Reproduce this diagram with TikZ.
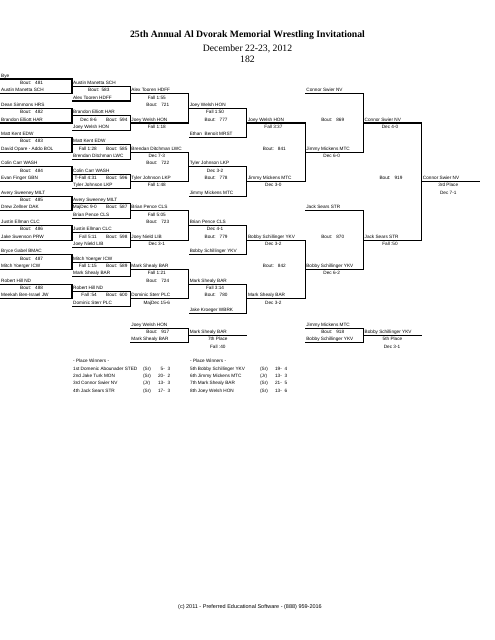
\documentclass[tikz,border=0pt]{standalone}
\usepackage{fontspec}
\setmainfont{Liberation Sans}
\newfontfamily\titlefont{Liberation Serif}
\usetikzlibrary{positioning}
\newcommand{\boutno}[1]{Bout:\hspace{5pt}#1}
\newcommand{\boutnar}[1]{Bout:\hspace{3pt}#1}

\begin{document}
\begin{tikzpicture}[x=1.23636pt,y=-9.0625pt,
		every node/.style={inner sep=0pt,font=\fontsize{5.8}{7}\selectfont},
		brk/.style={line width=1.3pt},
		nm/.style={anchor=base west},
		res/.style={anchor=base},
		rres/.style={anchor=base east}]
	\useasboundingbox (0,-10.778) rectangle (495,76.535);

	% heading
	\node[anchor=base,font=\titlefont\bfseries\fontsize{12}{14}\selectfont] (title) at (247.5,-5.68) {25th Annual Al Dvorak Memorial Wrestling Invitational};
	\node[anchor=base,font=\titlefont\fontsize{12}{14}\selectfont] (date) at (247.5,-3.77) {December 22-23, 2012};
	\node[anchor=base,font=\titlefont\fontsize{12}{14}\selectfont] (weight) at (247.5,-2.26) {182};

	% first round
	\draw[brk] (0,0) -- (72,0) -- (72,2) -- (0,2);
	\draw[brk] (0,4) -- (72,4) -- (72,6) -- (0,6);
	\draw[brk] (0,8) -- (72,8) -- (72,10) -- (0,10);
	\draw[brk] (0,12) -- (72,12) -- (72,14) -- (0,14);
	\draw[brk] (0,16) -- (72,16) -- (72,18) -- (0,18);
	\draw[brk] (0,20) -- (72,20) -- (72,22) -- (0,22);
	\draw[brk] (0,24) -- (72,24) -- (72,26) -- (0,26);
	\draw[brk] (0,28) -- (72,28) -- (72,30) -- (0,30);

	\node[nm] (b481t) at (1,-.27) {Bye};
	\node[nm] (b481n) at (20,.73) {\boutno{481}};
	\node[nm] (b481b) at (1,1.73) {Austin Manetta SCH};
	\node[nm] (b482t) at (1,3.73) {Dean Simmons HRS};
	\node[nm] (b482n) at (20,4.73) {\boutno{482}};
	\node[nm] (b482b) at (1,5.73) {Brandon Elliott HAR};
	\node[nm] (b483t) at (1,7.73) {Matt Kent EDW};
	\node[nm] (b483n) at (20,8.73) {\boutno{483}};
	\node[nm] (b483b) at (1,9.73) {David Opare - Addo BOL};
	\node[nm] (b484t) at (1,11.73) {Colin Carr WASH};
	\node[nm] (b484n) at (20,12.73) {\boutno{484}};
	\node[nm] (b484b) at (1,13.73) {Evan Finger GBN};
	\node[nm] (b485t) at (1,15.73) {Avery Sweeney MILT};
	\node[nm] (b485n) at (20,16.73) {\boutno{485}};
	\node[nm] (b485b) at (1,17.73) {Drew Zellner DAK};
	\node[nm] (b486t) at (1,19.73) {Justin Ellman CLC};
	\node[nm] (b486n) at (20,20.73) {\boutno{486}};
	\node[nm] (b486b) at (1,21.73) {Jake Swenson PRW};
	\node[nm] (b487t) at (1,23.73) {Bryce Gabel BMAC};
	\node[nm] (b487n) at (20,24.73) {\boutno{487}};
	\node[nm] (b487b) at (1,25.73) {Mitch Yoerger ICW};
	\node[nm] (b488t) at (1,27.73) {Robert Hill ND};
	\node[nm] (b488n) at (20,28.73) {\boutno{488}};
	\node[nm] (b488b) at (1,29.73) {Meekah Ben-Israel JW};

	% second round
	\draw[brk] (72,1) -- (130.3,1) -- (130.3,3) -- (72,3);
	\draw[brk] (72,5) -- (130.3,5) -- (130.3,7) -- (72,7);
	\draw[brk] (72,9) -- (130.3,9) -- (130.3,11) -- (72,11);
	\draw[brk] (72,13) -- (130.3,13) -- (130.3,15) -- (72,15);
	\draw[brk] (72,17) -- (130.3,17) -- (130.3,19) -- (72,19);
	\draw[brk] (72,21) -- (130.3,21) -- (130.3,23) -- (72,23);
	\draw[brk] (72,25) -- (130.3,25) -- (130.3,27) -- (72,27);
	\draw[brk] (72,29) -- (130.3,29) -- (130.3,31) -- (72,31);

	\node[nm] (b583t) at (73,.73) {Austin Manetta SCH};
	\node[nm] (b583n) at (88,1.73) {\boutnar{583}};
	\node[nm] (b583b) at (73,2.73) {Alex Tooren HDFF};
	\node[nm] (b594t) at (73,4.73) {Brandon Elliott HAR};
	\node[rres] (b594r) at (97,5.73) {Dec 8-6};
	\node[nm] (b594n) at (106,5.73) {\boutnar{594}};
	\node[nm] (b594b) at (73,6.73) {Joey Welsh HON};
	\node[nm] (b585t) at (73,8.73) {Matt Kent EDW};
	\node[rres] (b585r) at (97,9.73) {Fall 1:28};
	\node[nm] (b585n) at (106,9.73) {\boutnar{585}};
	\node[nm] (b585b) at (73,10.73) {Brendan Ditchman LWC};
	\node[nm] (b596t) at (73,12.73) {Colin Carr WASH};
	\node[rres] (b596r) at (97,13.73) {T-Fall 4:31};
	\node[nm] (b596n) at (106,13.73) {\boutnar{596}};
	\node[nm] (b596b) at (73,14.73) {Tyler Johnson LKP};
	\node[nm] (b587t) at (73,16.73) {Avery Sweeney MILT};
	\node[rres] (b587r) at (97,17.73) {MajDec 9-0};
	\node[nm] (b587n) at (106,17.73) {\boutnar{587}};
	\node[nm] (b587b) at (73,18.73) {Brian Pence CLS};
	\node[nm] (b598t) at (73,20.73) {Justin Ellman CLC};
	\node[rres] (b598r) at (97,21.73) {Fall 5:11};
	\node[nm] (b598n) at (106,21.73) {\boutnar{598}};
	\node[nm] (b598b) at (73,22.73) {Joey Nield LIB};
	\node[nm] (b589t) at (73,24.73) {Mitch Yoerger ICW};
	\node[rres] (b589r) at (97,25.73) {Fall 1:15};
	\node[nm] (b589n) at (106,25.73) {\boutnar{589}};
	\node[nm] (b589b) at (73,26.73) {Mark Shealy BAR};
	\node[nm] (b600t) at (73,28.73) {Robert Hill ND};
	\node[rres] (b600r) at (97,29.73) {Fall :54};
	\node[nm] (b600n) at (106,29.73) {\boutnar{600}};
	\node[nm] (b600b) at (73,30.73) {Dominic Sterr PLC};

	% third round
	\draw[brk] (130.3,2) -- (188.6,2) -- (188.6,6) -- (130.3,6);
	\draw[brk] (130.3,10) -- (188.6,10) -- (188.6,14) -- (130.3,14);
	\draw[brk] (130.3,18) -- (188.6,18) -- (188.6,22) -- (130.3,22);
	\draw[brk] (130.3,26) -- (188.6,26) -- (188.6,30) -- (130.3,30);

	\node[nm] (b721t) at (131.3,1.73) {Alex Tooren HDFF};
	\node[res] (b721tr) at (156.8,2.73) {Fall 1:55};
	\node[res] (b721n) at (157.8,3.73) {\boutno{721}};
	\node[nm] (b721b) at (131.3,5.73) {Joey Welsh HON};
	\node[res] (b721br) at (156.8,6.73) {Fall 1:18};
	\node[nm] (b722t) at (131.3,9.73) {Brendan Ditchman LWC};
	\node[res] (b722tr) at (156.8,10.73) {Dec 7-3};
	\node[res] (b722n) at (157.8,11.73) {\boutno{722}};
	\node[nm] (b722b) at (131.3,13.73) {Tyler Johnson LKP};
	\node[res] (b722br) at (156.8,14.73) {Fall 1:48};
	\node[nm] (b723t) at (131.3,17.73) {Brian Pence CLS};
	\node[res] (b723tr) at (156.8,18.73) {Fall 5:05};
	\node[res] (b723n) at (157.8,19.73) {\boutno{723}};
	\node[nm] (b723b) at (131.3,21.73) {Joey Nield LIB};
	\node[res] (b723br) at (156.8,22.73) {Dec 3-1};
	\node[nm] (b724t) at (131.3,25.73) {Mark Shealy BAR};
	\node[res] (b724tr) at (156.8,26.73) {Fall 1:21};
	\node[res] (b724n) at (157.8,27.73) {\boutno{724}};
	\node[nm] (b724b) at (131.3,29.73) {Dominic Sterr PLC};
	\node[res] (b724br) at (156.8,30.73) {MajDec 15-6};

	% fourth round
	\draw[brk] (188.6,4) -- (246.9,4) -- (246.9,8) -- (188.6,8);
	\draw[brk] (188.6,12) -- (246.9,12) -- (246.9,16) -- (188.6,16);
	\draw[brk] (188.6,20) -- (246.9,20) -- (246.9,24) -- (188.6,24);
	\draw[brk] (188.6,28) -- (246.9,28) -- (246.9,32) -- (188.6,32);

	\node[nm] (b777t) at (189.6,3.73) {Joey Welsh HON};
	\node[res] (b777r) at (215.1,4.73) {Fall 1:50};
	\node[res] (b777n) at (216.1,5.73) {\boutno{777}};
	\node[nm] (b777b) at (189.6,7.73) {Ethan\ \ Benoit MRST};
	\node[nm] (b778t) at (189.6,11.73) {Tyler Johnson LKP};
	\node[res] (b778r) at (215.1,12.73) {Dec 3-2};
	\node[res] (b778n) at (216.1,13.73) {\boutno{778}};
	\node[nm] (b778b) at (189.6,15.73) {Jimmy Mickens MTC};
	\node[nm] (b779t) at (189.6,19.73) {Brian Pence CLS};
	\node[res] (b779r) at (215.1,20.73) {Dec 4-1};
	\node[res] (b779n) at (216.1,21.73) {\boutno{779}};
	\node[nm] (b779b) at (189.6,23.73) {Bobby Schillinger YKV};
	\node[nm] (b780t) at (189.6,27.73) {Mark Shealy BAR};
	\node[res] (b780r) at (215.1,28.73) {Fall 3:14};
	\node[res] (b780n) at (216.1,29.73) {\boutno{780}};
	\node[nm] (b780b) at (189.6,31.73) {Jake Kroeger WBRK};

	% fifth round
	\draw[brk] (246.9,6) -- (305.2,6) -- (305.2,14) -- (246.9,14);
	\draw[brk] (246.9,22) -- (305.2,22) -- (305.2,30) -- (246.9,30);

	\node[nm] (b841t) at (247.9,5.73) {Joey Welsh HON};
	\node[res] (b841tr) at (273.4,6.73) {Fall 3:37};
	\node[res] (b841n) at (274.4,9.73) {\boutno{841}};
	\node[nm] (b841b) at (247.9,13.73) {Jimmy Mickens MTC};
	\node[res] (b841br) at (273.4,14.73) {Dec 3-0};
	\node[nm] (b842t) at (247.9,21.73) {Bobby Schillinger YKV};
	\node[res] (b842tr) at (273.4,22.73) {Dec 3-2};
	\node[res] (b842n) at (274.4,25.73) {\boutno{842}};
	\node[nm] (b842b) at (247.9,29.73) {Mark Shealy BAR};
	\node[res] (b842br) at (273.4,30.73) {Dec 3-2};

	% sixth round
	\draw[brk] (305.2,2) -- (363.5,2) -- (363.5,10) -- (305.2,10);
	\draw[brk] (305.2,18) -- (363.5,18) -- (363.5,26) -- (305.2,26);

	\node[nm] (b869t) at (306.2,1.73) {Connor Swier NV};
	\node[res] (b869n) at (332.7,5.73) {\boutno{869}};
	\node[nm] (b869b) at (306.2,9.73) {Jimmy Mickens MTC};
	\node[res] (b869br) at (331.7,10.73) {Dec 6-0};
	\node[nm] (b870t) at (306.2,17.73) {Jack Sears STR};
	\node[res] (b870n) at (332.7,21.73) {\boutno{870}};
	\node[nm] (b870b) at (306.2,25.73) {Bobby Schillinger YKV};
	\node[res] (b870br) at (331.7,26.73) {Dec 6-2};

	% third place
	\draw[brk] (363.5,6) -- (421.8,6) -- (421.8,22) -- (363.5,22);
	\draw[brk] (421.8,14) -- (480.1,14);

	\node[nm] (b919t) at (364.5,5.73) {Connor Swier NV};
	\node[res] (b919tr) at (390,6.73) {Dec 4-0};
	\node[res] (b919n) at (391,13.73) {\boutno{919}};
	\node[nm] (b919b) at (364.5,21.73) {Jack Sears STR};
	\node[res] (b919br) at (390,22.73) {Fall :50};
	\node[nm] (third) at (422.8,13.73) {Connor Swier NV};
	\node[res] (thirdp) at (448.3,14.73) {3rd Place};
	\node[res] (thirdr) at (448.3,15.73) {Dec 7-1};

	% seventh and fifth place
	\draw[brk] (130.3,34) -- (188.6,34) -- (188.6,36) -- (130.3,36);
	\draw[brk] (188.6,35) -- (246.9,35);
	\node[nm] (b917t) at (131.3,33.73) {Joey Welsh HON};
	\node[res] (b917n) at (157.8,34.73) {\boutno{917}};
	\node[nm] (b917b) at (131.3,35.73) {Mark Shealy BAR};
	\node[nm] (seventh) at (189.6,34.73) {Mark Shealy BAR};
	\node[res] (seventhp) at (217.8,35.73) {7th Place};
	\node[res] (seventhr) at (217.8,36.73) {Fall :40};

	\draw[brk] (305.2,34) -- (363.5,34) -- (363.5,36) -- (305.2,36);
	\draw[brk] (363.5,35) -- (421.8,35);
	\node[nm] (b918t) at (306.2,33.73) {Jimmy Mickens MTC};
	\node[res] (b918n) at (332.7,34.73) {\boutno{918}};
	\node[nm] (b918b) at (306.2,35.73) {Bobby Schillinger YKV};
	\node[nm] (fifth) at (364.5,34.73) {Bobby Schillinger YKV};
	\node[res] (fifthp) at (392.5,35.73) {5th Place};
	\node[res] (fifthr) at (392,36.73) {Dec 3-1};

	% place winners
	\node[nm] (pwl) at (73,38.73) {- Place Winners -};
	\node[nm] (p1) at (73,39.73) {1st Domenic Abounader STED};
	\node[nm] (p1y) at (143,39.73) {(Sr)};
	\node[rres] (p1w) at (165,39.73) {5-};
	\node[rres] (p1l) at (170.5,39.73) {3};
	\node[nm] (p2) at (73,40.73) {2nd Jake Turk MON};
	\node[nm] (p2y) at (143,40.73) {(Sr)};
	\node[rres] (p2w) at (165,40.73) {20-};
	\node[rres] (p2l) at (170.5,40.73) {2};
	\node[nm] (p3) at (73,41.73) {3rd Connor Swier NV};
	\node[nm] (p3y) at (143,41.73) {(Jr)};
	\node[rres] (p3w) at (165,41.73) {13-};
	\node[rres] (p3l) at (170.5,41.73) {3};
	\node[nm] (p4) at (73,42.73) {4th Jack Sears STR};
	\node[nm] (p4y) at (143,42.73) {(Sr)};
	\node[rres] (p4w) at (165,42.73) {17-};
	\node[rres] (p4l) at (170.5,42.73) {3};

	\node[nm] (pwr) at (190,38.73) {- Place Winners -};
	\node[nm] (p5) at (190,39.73) {5th Bobby Schillinger YKV};
	\node[nm] (p5y) at (260,39.73) {(Sr)};
	\node[rres] (p5w) at (282,39.73) {19-};
	\node[rres] (p5l) at (287.5,39.73) {4};
	\node[nm] (p6) at (190,40.73) {6th Jimmy Mickens MTC};
	\node[nm] (p6y) at (260,40.73) {(Jr)};
	\node[rres] (p6w) at (282,40.73) {13-};
	\node[rres] (p6l) at (287.5,40.73) {3};
	\node[nm] (p7) at (190,41.73) {7th Mark Shealy BAR};
	\node[nm] (p7y) at (260,41.73) {(Sr)};
	\node[rres] (p7w) at (282,41.73) {21-};
	\node[rres] (p7l) at (287.5,41.73) {5};
	\node[nm] (p8) at (190,42.73) {8th Joey Welsh HON};
	\node[nm] (p8y) at (260,42.73) {(Sr)};
	\node[rres] (p8w) at (282,42.73) {13-};
	\node[rres] (p8l) at (287.5,42.73) {6};

	% footer
	\node[anchor=base,font=\fontsize{6.8}{8}\selectfont] (foot) at (250,72.17) {(c) 2011 - Preferred Educational Software - (888) 959-2016};
\end{tikzpicture}
\end{document}
